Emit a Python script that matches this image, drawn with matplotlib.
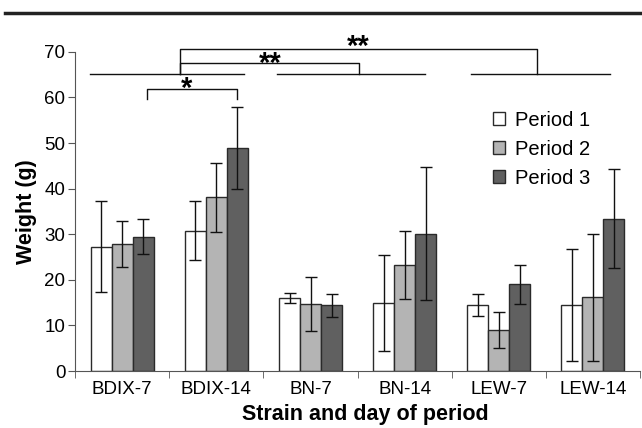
import matplotlib
matplotlib.use("Agg")
import matplotlib.pyplot as plt
import numpy as np
from matplotlib.lines import Line2D

plt.rcParams["font.family"] = ["Liberation Sans", "DejaVu Sans"]

categories = ["BDIX-7", "BDIX-14", "BN-7", "BN-14", "LEW-7", "LEW-14"]
series_names = ["Period 1", "Period 2", "Period 3"]
period1 = [27.3, 30.8, 16.0, 15.0, 14.4, 14.4]
period1_err = [10.0, 6.4, 1.1, 10.5, 2.4, 12.3]
period2 = [27.8, 38.1, 14.7, 23.3, 9.0, 16.2]
period2_err = [5.0, 7.6, 5.9, 7.5, 4.0, 13.9]
period3 = [29.5, 49.0, 14.4, 30.1, 19.0, 33.4]
period3_err = [3.8, 9.0, 2.5, 14.6, 4.2, 10.8]
y_ticks = [0, 10, 20, 30, 40, 50, 60, 70]

colors = ["#ffffff", "#b4b4b4", "#606060"]

fig = plt.figure(figsize=(6.42, 4.28), dpi=100)
ax = fig.add_axes([0.117, 0.133, 0.88, 0.746])

x = np.arange(len(categories))
w = 0.223
vals = [period1, period2, period3]
errs = [period1_err, period2_err, period3_err]
for k in range(3):
    ax.bar(x + (k - 1) * w, vals[k], w, yerr=errs[k], color=colors[k],
           edgecolor="#2a2a2a", linewidth=1.0, label=series_names[k],
           error_kw=dict(ecolor="#111111", elinewidth=1.0, capsize=4, capthick=1.0))

ax.set_xlim(-0.5, 5.5)
ax.set_ylim(0, 70)
ax.set_yticks(y_ticks)
ax.set_yticklabels([str(t) for t in y_ticks], fontsize=13.5)
ax.set_xticks(x)
ax.set_xticklabels(categories, fontsize=13.5)
ax.set_xticks(np.arange(-0.5, 6.0, 1.0), minor=True)
ax.tick_params(axis="x", which="major", length=0, pad=7)
ax.tick_params(axis="x", which="minor", length=5, color="#555555")
ax.tick_params(axis="y", length=5, color="#555555", pad=2)
for s in ["top", "right"]:
    ax.spines[s].set_visible(False)
for s in ["left", "bottom"]:
    ax.spines[s].set_color("#555555")
ax.set_ylabel("Weight (g)", fontsize=15.5, fontweight="bold", labelpad=5)
ax.set_xlabel("Strain and day of period", fontsize=15.5, fontweight="bold", labelpad=4)
ax.xaxis.set_label_coords(0.514, -0.104)

leg = ax.legend(loc="upper left", bbox_to_anchor=(0.708, 0.872), frameon=False,
                fontsize=14.5, handlelength=0.6, handleheight=0.6,
                handletextpad=0.5, labelspacing=0.5)

# significance annotations
lk = dict(color="#111111", lw=1.0, clip_on=False)
ax.plot([-0.34, 1.29], [65.2, 65.2], **lk)
ax.plot([1.64, 3.22], [65.2, 65.2], **lk)
ax.plot([3.70, 5.18], [65.2, 65.2], **lk)
ax.plot([0.61, 0.61, 4.41, 4.41], [65.2, 70.7, 70.7, 65.2], **lk)
ax.plot([0.61, 0.61, 2.51, 2.51], [65.2, 67.6, 67.6, 65.2], **lk)
ax.plot([0.26, 0.26, 1.22, 1.22], [59.7, 61.8, 61.8, 59.7], **lk)
tk = dict(ha="center", va="baseline", fontsize=21, fontweight="bold", clip_on=False)
ax.text(2.51, 69.2, "**", **tk)
ax.text(1.57, 65.6, "**", **tk)
ax.text(0.686, 60.0, "*", **tk)

fig.add_artist(Line2D([0.008, 1.0], [1 - 12.5 / 428, 1 - 12.5 / 428],
                      color="#222222", lw=2.5, transform=fig.transFigure))

fig.savefig("out.png", dpi=100)
